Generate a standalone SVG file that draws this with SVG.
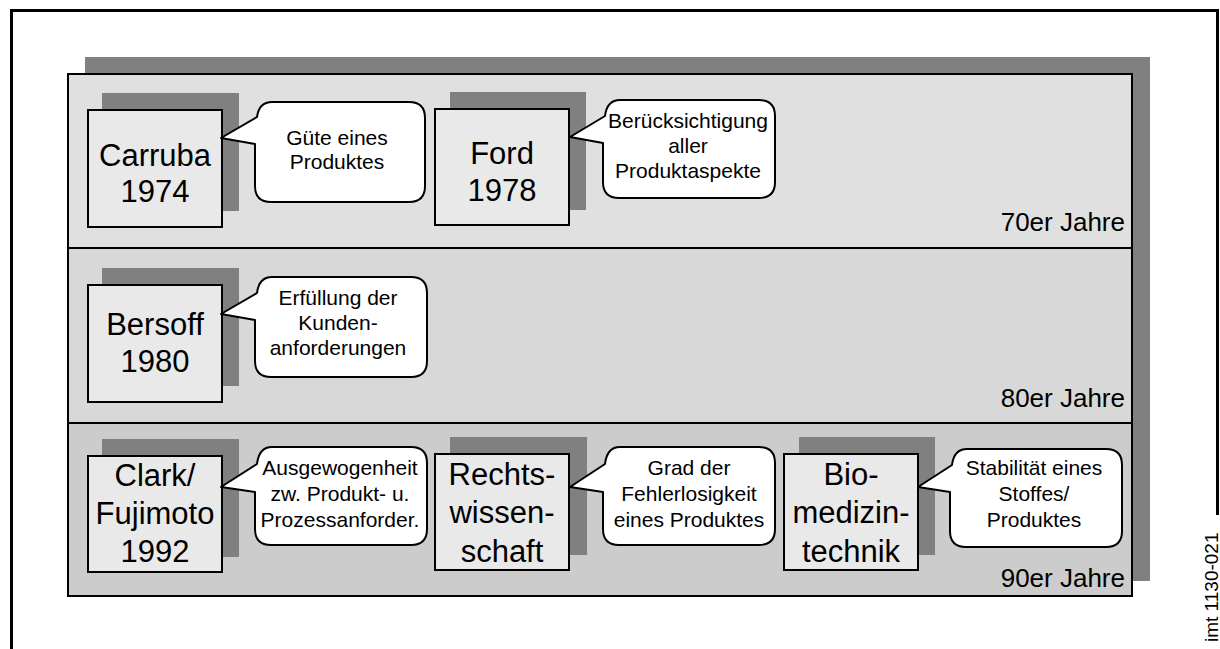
<svg xmlns="http://www.w3.org/2000/svg" width="1220" height="649" viewBox="0 0 1220 649">
  <style>
    text { font-family: "Liberation Sans", Arial, sans-serif; fill: #000; }
    .shadow { fill: #808080; }
    .band { stroke: #000; stroke-width: 2; }
    .node { fill: #e9e9e9; stroke: #000; stroke-width: 2; }
    .bubble { fill: #fff; stroke: #000; stroke-width: 2; stroke-linejoin: round; }
    .name { font-size: 31px; text-anchor: middle; }
    .note { font-size: 21px; text-anchor: middle; }
    .era { font-size: 26px; text-anchor: end; }
    .code { font-size: 19px; }
  </style>

  <!-- outer frame (open at the lower right where the code label sits) -->
  <path d="M11.5,649 V10.5 H1217.5 V515" fill="none" stroke="#000" stroke-width="3"/>

  <!-- decade bands with drop shadow -->
  <g id="bands">
    <rect class="shadow" x="85" y="57" width="1065" height="524"/>
    <rect id="band-70" class="band" x="68" y="74" width="1064" height="174" fill="#e0e0e0"/>
    <rect id="band-80" class="band" x="68" y="248" width="1064" height="175" fill="#d8d8d8"/>
    <rect id="band-90" class="band" x="68" y="423" width="1064" height="173" fill="#cccccc"/>
    <text class="era" x="1125" y="231">70er Jahre</text>
    <text class="era" x="1125" y="407">80er Jahre</text>
    <text class="era" x="1125" y="587">90er Jahre</text>
  </g>

  <!-- source nodes -->
  <g id="node-carruba">
    <rect class="shadow" x="102" y="93" width="137" height="118"/>
    <rect class="node" x="88" y="110" width="134" height="117"/>
    <text class="name" x="155" y="166">Carruba</text>
    <text class="name" x="155" y="202">1974</text>
  </g>
  <g id="node-ford">
    <rect class="shadow" x="450" y="92" width="136" height="118"/>
    <rect class="node" x="435" y="109" width="134" height="116"/>
    <text class="name" x="502" y="164">Ford</text>
    <text class="name" x="502" y="201">1978</text>
  </g>
  <g id="node-bersoff">
    <rect class="shadow" x="102" y="268" width="137" height="118"/>
    <rect class="node" x="88" y="285" width="134" height="117"/>
    <text class="name" x="155" y="335">Bersoff</text>
    <text class="name" x="155" y="372">1980</text>
  </g>
  <g id="node-clark">
    <rect class="shadow" x="102" y="439" width="137" height="118"/>
    <rect class="node" x="88" y="456" width="134" height="116"/>
    <text class="name" x="155" y="486">Clark/</text>
    <text class="name" x="155" y="524">Fujimoto</text>
    <text class="name" x="155" y="562">1992</text>
  </g>
  <g id="node-recht">
    <rect class="shadow" x="450" y="437" width="137" height="118"/>
    <rect class="node" x="435" y="454" width="134" height="116"/>
    <text class="name" x="502" y="485">Rechts-</text>
    <text class="name" x="502" y="523">wissen-</text>
    <text class="name" x="502" y="562">schaft</text>
  </g>
  <g id="node-bio">
    <rect class="shadow" x="799" y="437" width="136" height="118"/>
    <rect class="node" x="784" y="454" width="134" height="116"/>
    <text class="name" x="851" y="485">Bio-</text>
    <text class="name" x="851" y="523">medizin-</text>
    <text class="name" x="851" y="562">technik</text>
  </g>

  <!-- speech-bubble connectors from each node to its definition -->
  <g id="connectors">
    <g id="note-carruba">
      <path class="bubble" d="M272,102 H409 Q425,102 425,118 V186 Q425,202 409,202 H271 Q255,202 255,186 V144 L221,138 L257,117 Q259,102 272,102 Z"/>
      <text class="note" x="337" y="145">Güte eines</text>
      <text class="note" x="337" y="169">Produktes</text>
    </g>
    <g id="note-ford">
      <path class="bubble" d="M620,100 H759 Q775,100 775,116 V182 Q775,198 759,198 H619 Q603,198 603,182 V143 L570,137 L605,116 Q607,100 620,100 Z"/>
      <text class="note" x="688" y="128">Berücksichtigung</text>
      <text class="note" x="688" y="153">aller</text>
      <text class="note" x="688" y="178">Produktaspekte</text>
    </g>
    <g id="note-bersoff">
      <path class="bubble" d="M272,277 H411 Q427,277 427,293 V361 Q427,377 411,377 H271 Q255,377 255,361 V320 L221,314 L257,293 Q259,277 272,277 Z"/>
      <text class="note" x="338" y="305">Erfüllung der</text>
      <text class="note" x="338" y="330">Kunden-</text>
      <text class="note" x="338" y="355">anforderungen</text>
    </g>
    <g id="note-clark">
      <path class="bubble" d="M272,447 H411 Q427,447 427,463 V529 Q427,545 411,545 H271 Q255,545 255,529 V492 L221,487 L257,464 Q259,447 272,447 Z"/>
      <text class="note" x="340" y="475">Ausgewogenheit</text>
      <text class="note" x="340" y="501">zw. Produkt- u.</text>
      <text class="note" x="340" y="527">Prozessanforder.</text>
    </g>
    <g id="note-recht">
      <path class="bubble" d="M620,447 H759 Q775,447 775,463 V529 Q775,545 759,545 H619 Q603,545 603,529 V492 L570,487 L605,464 Q607,447 620,447 Z"/>
      <text class="note" x="689" y="475">Grad der</text>
      <text class="note" x="689" y="501">Fehlerlosigkeit</text>
      <text class="note" x="689" y="527">eines Produktes</text>
    </g>
    <g id="note-bio">
      <path class="bubble" d="M967,449 H1106 Q1122,449 1122,465 V531 Q1122,547 1106,547 H966 Q950,547 950,531 V492 L918,487 L952,465 Q954,449 967,449 Z"/>
      <text class="note" x="1034" y="475">Stabilität eines</text>
      <text class="note" x="1034" y="501">Stoffes/</text>
      <text class="note" x="1034" y="527">Produktes</text>
    </g>
  </g>

  <!-- drawing code -->
  <text class="code" transform="translate(1218,642) rotate(-90)">imt 1130-021</text>
</svg>
